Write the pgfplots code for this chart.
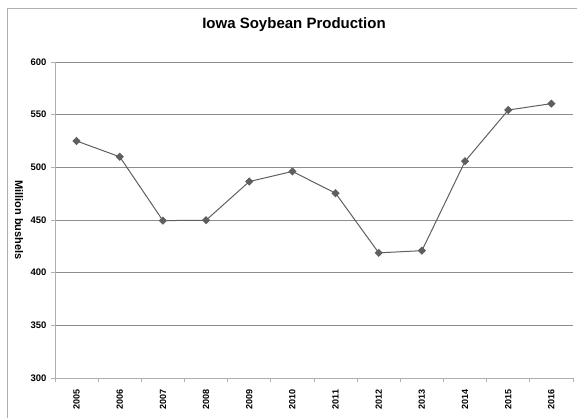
\documentclass[border=0pt]{standalone}
\usepackage{pgfplots}
\pgfplotsset{compat=1.18}
\usepackage{fontspec}
\setmainfont{Liberation Sans}
\definecolor{linegray}{HTML}{5F5F5F}
\definecolor{gridgray}{HTML}{8C8C8C}
\definecolor{axisgray}{HTML}{B0B0B0}
\begin{document}
\begin{tikzpicture}[x=1pt,y=1pt]
\path[use as bounding box] (0,0) rectangle (577,418);
\draw[axisgray, line width=1pt] (7,0) -- (7,409) -- (577,409);
\begin{axis}[
  at={(55pt,40pt)}, anchor=south west,
  scale only axis, width=518pt, height=316pt,
  xmin=2004.5, xmax=2016.5, ymin=300, ymax=600,
  axis x line*=bottom, axis y line*=left,
  axis line style={draw=axisgray, line width=0.8pt, -},
  ytick={300,350,...,600},
  ymajorgrids, grid style={gridgray, line width=0.7pt},
  xtick={2005,...,2016},
  xticklabels={2005,2006,2007,2008,2009,2010,2011,2012,2013,2014,2015,2016},
  major x tick style={draw=none},
  minor xtick={2004.5,2005.5,...,2016.5},
  minor x tick style={draw=axisgray, line width=0.7pt},
  minor tick length=4pt,
  major tick length=4pt,
  tick align=outside,
  y tick style={draw=axisgray, line width=0.7pt},
  /pgf/number format/assume math mode=true,
  /pgf/number format/1000 sep={},
  x tick label style={rotate=90, anchor=east, font=\fontsize{9}{10}\selectfont\bfseries, yshift=0pt, xshift=-4pt},
  y tick label style={font=\fontsize{9.5}{11}\selectfont\bfseries, xshift=-1pt},
  ylabel={Million bushels},
  every axis y label/.style={at={(axis description cs:-0.0695,0.5)}, rotate=-90, anchor=center, font=\fontsize{11}{12}\selectfont\bfseries},
  title={Iowa Soybean Production},
  every axis title/.style={at={(axis description cs:0.4614,1.117)}, anchor=center, font=\fontsize{15}{17}\selectfont\bfseries},
  clip=false,
]
\addplot[color=linegray, line width=1pt, mark=square*, mark size=2.4pt, mark options={rotate=45, fill=linegray, draw=linegray}]
coordinates {
(2005,525.0) (2006,510.0) (2007,449.4) (2008,449.8) (2009,486.5) (2010,496.1)
(2011,475.4) (2012,418.8) (2013,420.9) (2014,505.8) (2015,554.4) (2016,560.5)
};
\end{axis}
\end{tikzpicture}
\end{document}
